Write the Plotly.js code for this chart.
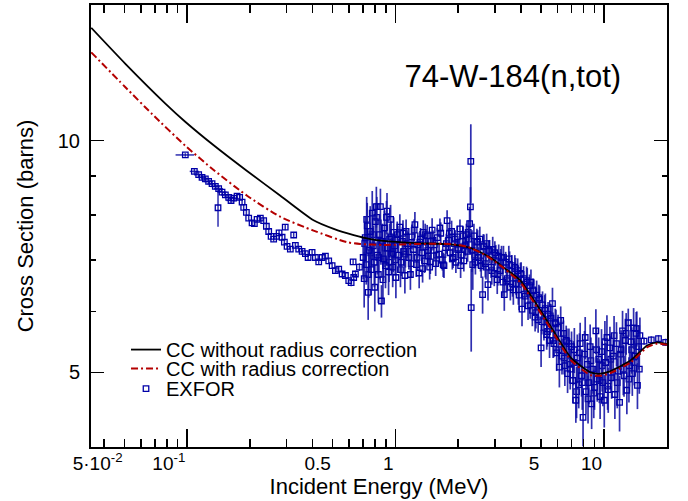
<!DOCTYPE html>
<html>
<head>
<meta charset="utf-8">
<script src="https://cdn.plot.ly/plotly-3.0.1.min.js"></script>
<style>html,body{margin:0;padding:0;background:#fff;}#chart{width:688px;height:501px;}</style>
</head>
<body>
<div id="chart"></div>
<script>
// ---------------- data ----------------
const chartTitle = '74-W-184(n,tot)';
const xTitle = 'Incident Energy (MeV)';
const yTitle = 'Cross Section (barns)';
const seriesNames = ['CC without radius correction', 'CC with radius correction', 'EXFOR'];

const xRangeMeV = [0.0346, 20.1];
const yRangeBarns = [4, 15];
const xTickVals = [0.05, 0.1, 0.5, 1, 5, 10];
const xTickText = ['5·10<sup>-2</sup>', '10<sup>-1</sup>', '0.5', '1', '5', '10'];
const xMajorTickVals = [0.1, 1, 10];
const xMinorTickVals = [0.04, 0.06, 0.07, 0.08, 0.09, 0.2, 0.3, 0.4, 0.6, 0.7, 0.8, 0.9, 2, 3, 4, 6, 7, 8, 9];
const yTickVals = [5, 10];
const yTickText = ['5', '10'];
const yMinorTickVals = [6, 7, 8, 9];

// CC without radius correction (black solid)
const ccNoCorrE = [0.0347, 0.0506, 0.0787, 0.098, 0.1342, 0.1941, 0.2805, 0.4045, 0.5056, 0.6307, 0.759, 0.876, 1.27, 1.837, 2.30, 2.858, 3.31, 3.98, 4.447, 5.55, 6.92, 7.73, 8.63, 9.64, 10.77, 13.43, 16.15, 18.05, 20.1];
const ccNoCorrS = [14.01, 12.58, 11.17, 10.58, 9.86, 9.13, 8.48, 7.88, 7.68, 7.54, 7.45, 7.41, 7.36, 7.33, 7.25, 7.05, 6.84, 6.58, 6.30, 5.74, 5.23, 5.10, 5.00, 4.98, 5.02, 5.18, 5.42, 5.47, 5.44];

// CC with radius correction (red dash-dot)
const ccCorrE = [0.0347, 0.0506, 0.0679, 0.098, 0.1342, 0.1941, 0.2805, 0.4045, 0.5849, 0.6775, 0.876, 1.27, 1.837, 2.21, 2.65, 3.19, 3.98, 4.447, 5.55, 6.92, 7.73, 8.63, 9.64, 10.77, 13.43, 16.15, 18.05, 20.1];
const ccCorrS = [13.02, 11.73, 10.83, 9.85, 9.16, 8.48, 7.96, 7.64, 7.38, 7.34, 7.32, 7.34, 7.34, 7.28, 7.12, 6.88, 6.54, 6.26, 5.70, 5.19, 5.06, 4.96, 4.95, 4.99, 5.15, 5.39, 5.45, 5.43];

// EXFOR, low-energy set (0.1 - 0.7 MeV)
const exforLowE = [0.0981, 0.1084, 0.1137, 0.1180, 0.1224, 0.1269, 0.1318, 0.1367, 0.1408, 0.1418,
  0.1472, 0.1527, 0.1584, 0.1626, 0.1674, 0.1738, 0.1788, 0.1837, 0.1870, 0.1926,
  0.1976, 0.2051, 0.2104, 0.2168, 0.2248, 0.2332, 0.2403, 0.2465, 0.2531, 0.2604,
  0.2684, 0.2765, 0.2858, 0.2931, 0.2959, 0.3020, 0.3131, 0.3249, 0.3310, 0.3434,
  0.3566, 0.3698, 0.3810, 0.3982, 0.4130, 0.4284, 0.4448, 0.4613, 0.4785, 0.4968,
  0.5152, 0.5344, 0.5548, 0.5754, 0.5969, 0.6130, 0.6265, 0.6307, 0.6427, 0.6718];
const exforLowS = [9.58, 9.12, 9.03, 8.96, 8.92, 8.85, 8.79, 8.72, 8.18, 8.66,
  8.57, 8.50, 8.44, 8.36, 8.42, 8.47, 8.44, 8.32, 8.19, 8.07,
  7.93, 7.82, 7.80, 7.90, 7.93, 7.87, 7.74, 7.62, 7.51, 7.45,
  7.51, 7.59, 7.49, 7.38, 7.72, 7.29, 7.23, 7.54, 7.31, 7.23,
  7.18, 7.13, 7.05, 7.16, 7.05, 6.96, 7.05, 7.08, 6.98, 6.88,
  6.78, 6.81, 6.71, 6.68, 6.58, 6.54, 6.96, 6.64, 6.71, 6.85];
const exforLowErr = [0.05, 0.07, 0.07, 0.06, 0.07, 0.06, 0.07, 0.06, 0.45, 0.06,
  0.07, 0.06, 0.06, 0.07, 0.06, 0.06, 0.07, 0.06, 0.06, 0.07,
  0.06, 0.06, 0.07, 0.06, 0.06, 0.07, 0.06, 0.06, 0.07, 0.06,
  0.06, 0.07, 0.06, 0.06, 0.07, 0.06, 0.06, 0.07, 0.06, 0.06,
  0.07, 0.06, 0.06, 0.07, 0.06, 0.06, 0.07, 0.06, 0.06, 0.07,
  0.06, 0.06, 0.07, 0.06, 0.06, 0.07, 0.06, 0.06, 0.07, 0.08];
const exforLowDE = [0.010, 0.0054, 0.0057, 0.0059, 0.0061, 0.0063, 0.0066, 0.0068, 0, 0.0071,
  0.0074, 0.0076, 0.0079, 0.0081, 0.0084, 0, 0, 0, 0, 0,
  0, 0, 0, 0, 0, 0, 0, 0, 0, 0,
  0, 0, 0, 0, 0, 0, 0, 0, 0, 0,
  0, 0, 0, 0, 0, 0, 0, 0, 0, 0,
  0, 0, 0, 0, 0, 0, 0, 0, 0, 0];

// EXFOR, high-energy set A (0.7 - 20 MeV)
const exforHighE = [
  0.700, 0.708, 0.716, 0.724, 0.732, 0.740, 0.748, 0.757, 0.765, 0.774,
  0.783, 0.792, 0.801, 0.810, 0.819, 0.828, 0.838, 0.847, 0.857, 0.866,
  0.876, 0.886, 0.896, 0.906, 0.916, 0.927, 0.937, 0.948, 0.959, 0.970, 0.981,
  0.992, 1.005, 1.020, 1.035, 1.050, 1.065, 1.080, 1.095, 1.110, 1.125,
  1.140, 1.160, 1.180, 1.200, 1.220, 1.240, 1.260, 1.280, 1.300, 1.320,
  1.340, 1.360, 1.380, 1.400, 1.420, 1.440, 1.460, 1.480, 1.500, 1.530,
  1.560, 1.590, 1.620, 1.650, 1.680, 1.710, 1.740, 1.770, 1.800, 1.830,
  1.860, 1.890, 1.920, 1.950, 1.980, 2.010, 2.040, 2.070, 2.100, 2.130,
  2.160, 2.190, 2.220,
  2.25, 2.27, 2.29, 2.30, 2.31, 2.33, 2.35,
  2.38, 2.42, 2.46, 2.50, 2.54, 2.58, 2.62, 2.66, 2.70, 2.74,
  2.78, 2.83, 2.88, 2.93, 2.98, 3.03, 3.08, 3.13, 3.18, 3.23,
  3.28, 3.33, 3.38, 3.44, 3.50, 3.56, 3.62, 3.68, 3.74, 3.80,
  3.86, 3.92, 3.98, 4.05, 4.12, 4.19, 4.26, 4.33, 4.40, 4.47,
  4.54, 4.61, 4.68, 4.76, 4.84, 4.92, 5.00, 5.08, 5.16, 5.24,
  5.32, 5.40, 5.49, 5.58, 5.67, 5.76, 5.85, 5.94, 6.03, 6.12,
  6.21, 6.30, 6.40, 6.50, 6.60, 6.70, 6.80, 6.90, 7.00,
  7.10, 7.22, 7.34, 7.46, 7.58, 7.70, 7.82, 7.95, 8.08, 8.21,
  8.34, 8.47, 8.60, 8.74, 8.88, 9.02, 9.16, 9.30, 9.45, 9.60,
  9.75, 9.90, 10.05, 10.2, 10.35, 10.5, 10.7, 10.9, 11.1, 11.3,
  11.5, 11.7, 11.9, 12.1, 12.3, 12.5, 12.7, 12.9, 13.1, 13.3,
  13.5, 13.7, 13.9, 14.1, 14.3, 14.5, 14.7, 14.9,
  15.6, 16.9, 18.3, 19.8];
const exforHighS = [
  7.05, 6.62, 7.48, 6.90, 7.75, 6.35, 7.20, 7.62, 6.80, 8.05,
  7.30, 6.95, 7.85, 8.21, 7.10, 6.70, 7.55, 8.21, 6.19, 7.40,
  7.02, 7.70, 6.88, 7.95, 7.25, 6.75, 7.45, 7.90, 7.12, 6.85, 7.60,
  7.30, 6.64, 7.55, 7.10, 7.72, 6.95, 7.40, 7.18, 6.68, 7.62,
  7.35, 7.05, 6.70, 7.50, 7.22, 7.78, 6.90, 7.32, 6.73, 7.45,
  7.15, 7.60, 6.98, 7.28, 7.52, 7.08, 6.85, 7.40, 7.65, 7.20,
  6.92, 7.48, 7.12, 7.58, 7.00, 6.88, 7.26, 7.87, 7.42, 7.15,
  7.62, 7.05, 7.35, 6.95, 7.50, 7.22, 7.68, 7.10, 7.40, 6.98,
  7.30, 7.55, 7.18,
  7.45, 7.80, 8.20, 9.40, 6.07, 7.20, 6.90,
  7.52, 6.95, 7.38, 7.05, 7.45, 6.88, 6.31, 7.30, 6.92, 7.35,
  6.50, 7.18, 6.85, 7.22, 6.72, 7.10, 6.60, 7.08, 6.78, 7.05,
  6.55, 6.31, 6.95, 6.62, 7.02, 6.45, 6.88, 6.40, 6.85, 6.52,
  6.78, 6.30, 6.72, 6.04, 6.62, 6.28, 6.58, 6.10, 6.48, 6.55,
  6.02, 6.38, 5.90, 6.30, 5.85, 6.22, 5.38, 6.12, 5.72, 6.05,
  5.60, 5.95, 5.50, 5.88, 6.14, 5.45, 5.80, 5.30, 5.72, 5.08,
  5.84, 5.25, 5.62, 5.10, 5.50, 4.98, 5.45, 5.05, 5.40,
  4.88, 5.35, 4.60, 5.22, 4.82, 5.45, 4.95, 4.37, 5.28, 4.72,
  5.12, 4.85, 5.40, 4.55, 5.05, 4.78, 5.66, 4.90, 5.20, 4.65,
  5.32, 4.85, 4.60, 5.15, 5.55, 4.75, 5.38, 4.92, 5.25, 4.68,
  5.45, 5.02, 4.57, 5.35, 5.66, 4.95, 5.50, 4.74, 5.80, 5.10,
  5.48, 4.98, 5.71, 5.25, 5.62, 4.81, 5.40, 5.58,
  5.49, 5.51, 5.53, 5.47];
const exforHighErr = [
  0.45, 0.55, 0.50, 0.40, 0.55, 0.50, 0.45, 0.60, 0.50, 0.55,
  0.45, 0.50, 0.45, 0.50, 0.40, 0.55, 0.45, 0.45, 0.30, 0.40,
  0.45, 0.40, 0.45, 0.40, 0.35, 0.45, 0.35, 0.35, 0.35, 0.40, 0.35,
  0.30, 0.40, 0.30, 0.35, 0.30, 0.28, 0.32, 0.30, 0.35, 0.28,
  0.30, 0.25, 0.30, 0.28, 0.25, 0.30, 0.25, 0.28, 0.30, 0.25,
  0.22, 0.28, 0.25, 0.22, 0.25, 0.22, 0.25, 0.22, 0.28, 0.22,
  0.25, 0.22, 0.20, 0.25, 0.22, 0.25, 0.22, 0.25, 0.22, 0.20,
  0.25, 0.22, 0.20, 0.22, 0.25, 0.20, 0.22, 0.20, 0.25, 0.22,
  0.20, 0.25, 0.22,
  0.30, 0.40, 0.50, 1.10, 0.75, 0.45, 0.50,
  0.28, 0.25, 0.30, 0.22, 0.28, 0.25, 0.35, 0.25, 0.28, 0.22,
  0.30, 0.25, 0.22, 0.28, 0.25, 0.22, 0.28, 0.25, 0.22, 0.25,
  0.28, 0.30, 0.22, 0.25, 0.28, 0.25, 0.22, 0.28, 0.25, 0.22,
  0.25, 0.28, 0.22, 0.30, 0.25, 0.22, 0.28, 0.25, 0.22, 0.25,
  0.28, 0.22, 0.25, 0.28, 0.22, 0.25, 0.30, 0.25, 0.22, 0.28,
  0.25, 0.22, 0.28, 0.25, 0.30, 0.22, 0.25, 0.28, 0.22, 0.30,
  0.25, 0.28, 0.22, 0.30, 0.25, 0.28, 0.25, 0.30, 0.25,
  0.32, 0.36, 0.30, 0.38, 0.33, 0.35, 0.30, 0.36, 0.38, 0.31,
  0.35, 0.30, 0.37, 0.33, 0.36, 0.31, 0.38, 0.32, 0.35, 0.30,
  0.37, 0.33, 0.36, 0.31, 0.38, 0.32, 0.35, 0.30, 0.37, 0.33,
  0.36, 0.31, 0.38, 0.32, 0.35, 0.30, 0.37, 0.33, 0.25, 0.31,
  0.38, 0.32, 0.35, 0.30, 0.37, 0.33, 0.36, 0.31,
  0.06, 0.06, 0.06, 0.06];

// EXFOR, high-energy set B (0.7 - 15 MeV)
const exforHigh2E = [
  0.712, 0.728, 0.744, 0.761, 0.778, 0.796, 0.814, 0.833, 0.852, 0.871,
  0.891, 0.911, 0.932, 0.953, 0.975, 0.998, 1.027, 1.057, 1.087, 1.117,
  1.150, 1.190, 1.230, 1.270, 1.310, 1.350, 1.390, 1.430, 1.470, 1.515,
  1.575, 1.635, 1.695, 1.755, 1.815, 1.875, 1.935, 1.995, 2.055, 2.115,
  2.175, 2.235,
  2.40, 2.48, 2.56, 2.64, 2.72, 2.80, 2.90, 3.00, 3.10, 3.20,
  3.30, 3.41, 3.53, 3.65, 3.77, 3.89, 4.01, 4.15, 4.29, 4.43,
  4.57, 4.72, 4.88, 5.04, 5.20, 5.36, 5.53, 5.71, 5.89, 6.07,
  6.25, 6.45, 6.65, 6.85,
  7.16, 7.40, 7.64, 7.88, 8.14, 8.40, 8.67, 8.95, 9.23, 9.52,
  9.82, 10.12, 10.43, 10.8, 11.2, 11.6, 12.0, 12.4, 12.8, 13.2,
  13.6, 14.0, 14.4, 14.8];
const exforHigh2S = [
  7.35, 7.90, 6.70, 7.15, 7.55, 6.45, 7.95, 7.05, 7.40, 6.60,
  7.25, 8.10, 6.95, 7.50, 7.15, 7.00, 7.45, 6.80, 7.58, 7.12,
  7.30, 6.92, 7.65, 7.05, 7.38, 6.82, 7.55, 7.20, 6.96, 7.42,
  7.10, 7.70, 6.90, 7.35, 7.58, 7.02, 7.45, 7.25, 6.88, 7.52,
  7.32, 7.60,
  7.10, 7.40, 6.98, 7.28, 6.85, 7.20, 6.78, 7.15, 6.70, 6.95,
  7.05, 6.58, 6.90, 6.52, 6.82, 6.40, 6.70, 6.32, 6.55, 6.12,
  6.40, 5.98, 6.25, 5.82, 6.02, 5.65, 5.92, 5.50, 5.78, 5.35,
  5.62, 5.22, 5.48, 5.12,
  5.15, 4.72, 5.30, 4.85, 5.55, 4.62, 5.18, 4.70, 5.35, 4.88,
  5.10, 5.48, 4.80, 5.20, 5.58, 4.85, 5.28, 5.05, 5.62, 4.90,
  5.35, 5.15, 5.70, 5.05];
const exforHigh2Err = [
  0.50, 0.55, 0.45, 0.50, 0.55, 0.45, 0.50, 0.45, 0.50, 0.45,
  0.40, 0.45, 0.40, 0.35, 0.40, 0.32, 0.30, 0.35, 0.30, 0.28,
  0.30, 0.28, 0.25, 0.28, 0.25, 0.28, 0.25, 0.22, 0.25, 0.22,
  0.25, 0.22, 0.25, 0.22, 0.25, 0.22, 0.20, 0.22, 0.25, 0.22,
  0.25, 0.28,
  0.28, 0.25, 0.22, 0.28, 0.25, 0.22, 0.28, 0.25, 0.22, 0.28,
  0.25, 0.22, 0.28, 0.25, 0.22, 0.28, 0.25, 0.22, 0.28, 0.25,
  0.22, 0.28, 0.25, 0.22, 0.28, 0.25, 0.22, 0.28, 0.25, 0.22,
  0.28, 0.25, 0.22, 0.28,
  0.34, 0.36, 0.32, 0.38, 0.35, 0.33, 0.37, 0.34, 0.36, 0.32,
  0.38, 0.35, 0.33, 0.37, 0.34, 0.36, 0.32, 0.38, 0.35, 0.33,
  0.37, 0.34, 0.30, 0.36];

// ---------------- styling ----------------
const FONT = 'Liberation Sans, Arial, Helvetica, sans-serif';
const exforColor = '#0000a8';
const errColor = 'rgba(18,18,165,0.88)';
const lg = Math.log10;
const xr = [lg(xRangeMeV[0]), lg(xRangeMeV[1])];
const yr = [lg(yRangeBarns[0]), lg(yRangeBarns[1])];
const exforMarker = {symbol: 'square-open', size: 5.5, color: exforColor, line: {width: 1.3, color: exforColor}};

const traces = [
  {
    x: exforLowE, y: exforLowS, type: 'scatter', mode: 'markers', name: seriesNames[2],
    legend: 'legend3', legendgroup: 'exfor', showlegend: false, marker: exforMarker,
    error_y: {type: 'data', array: exforLowErr, visible: true, color: errColor, thickness: 1.5, width: 0},
    error_x: {type: 'data', array: exforLowDE, visible: true, color: errColor, thickness: 1.5, width: 0},
    xaxis: 'x', yaxis: 'y', hoverinfo: 'skip'
  },
  {
    x: exforHigh2E, y: exforHigh2S, type: 'scatter', mode: 'markers', name: seriesNames[2],
    legend: 'legend3', legendgroup: 'exfor', showlegend: false, marker: exforMarker,
    error_y: {type: 'data', array: exforHigh2Err, visible: true, color: errColor, thickness: 1.7, width: 0},
    xaxis: 'x', yaxis: 'y', hoverinfo: 'skip'
  },
  {
    x: exforHighE, y: exforHighS, type: 'scatter', mode: 'markers', name: seriesNames[2],
    legend: 'legend3', legendgroup: 'exfor', showlegend: true, marker: exforMarker,
    error_y: {type: 'data', array: exforHighErr, visible: true, color: errColor, thickness: 1.7, width: 0},
    xaxis: 'x', yaxis: 'y', hoverinfo: 'skip'
  },
  {
    x: ccNoCorrE, y: ccNoCorrS, type: 'scatter', mode: 'lines', name: seriesNames[0],
    legend: 'legend', line: {color: '#000000', width: 1.8, shape: 'spline', smoothing: 0.6},
    xaxis: 'x2', yaxis: 'y2', hoverinfo: 'skip'
  },
  {
    x: ccCorrE, y: ccCorrS, type: 'scatter', mode: 'lines', name: seriesNames[1],
    legend: 'legend2', line: {color: '#b40000', width: 2, dash: '7px,3px,2px,3px', shape: 'spline', smoothing: 0.6},
    xaxis: 'x2', yaxis: 'y2', hoverinfo: 'skip'
  }
];

const commonLegend = {xanchor: 'left', yanchor: 'middle', bgcolor: 'rgba(0,0,0,0)', borderwidth: 0,
  font: {family: FONT, size: 20, color: '#000'}};

const layout = {
  width: 688, height: 501,
  margin: {l: 91, r: 21, t: 5, b: 54, pad: 0},
  paper_bgcolor: '#ffffff', plot_bgcolor: '#ffffff',
  font: {family: FONT, color: '#000', size: 19},
  showlegend: true,
  title: {text: chartTitle, font: {family: FONT, size: 31, color: '#000'},
          x: 0.7323, xref: 'paper', xanchor: 'center', y: 0.838, yref: 'paper', yanchor: 'middle'},
  xaxis: {
    type: 'log', range: xr, tickmode: 'array', tickvals: xTickVals, ticktext: xTickText,
    ticks: 'inside', ticklen: 8, tickwidth: 1.5, tickcolor: '#000',
    showline: true, linewidth: 2, linecolor: '#000', mirror: 'ticks',
    showgrid: false, zeroline: false, ticklabelposition: 'outside left', ticklabelstandoff: -2,
    tickfont: {family: FONT, size: 19, color: '#000'},
    title: {text: xTitle, font: {family: FONT, size: 22, color: '#000'}, standoff: 0},
    minor: {tickmode: 'array', tickvals: xMinorTickVals, ticks: 'inside', ticklen: 8, tickwidth: 1.5, tickcolor: '#000', showgrid: false},
    automargin: false, fixedrange: true
  },
  xaxis2: {
    type: 'log', range: xr, overlaying: 'x', anchor: 'y2', side: 'bottom',
    tickmode: 'array', tickvals: xMajorTickVals, showticklabels: false,
    ticks: 'inside', ticklen: 18, tickwidth: 1.5, tickcolor: '#000',
    showline: true, linewidth: 2, linecolor: '#000', mirror: 'ticks',
    showgrid: false, zeroline: false, automargin: false, fixedrange: true
  },
  yaxis: {
    type: 'log', range: yr, tickmode: 'array', tickvals: yTickVals, ticktext: yTickText,
    ticks: 'inside', ticklen: 13, tickwidth: 1.5, tickcolor: '#000',
    showline: true, linewidth: 2, linecolor: '#000', mirror: 'ticks',
    showgrid: false, zeroline: false, ticklabelstandoff: 5,
    tickfont: {family: FONT, size: 20, color: '#000'},
    title: {text: yTitle, font: {family: FONT, size: 22, color: '#000'}, standoff: 18},
    minor: {tickmode: 'array', tickvals: yMinorTickVals, ticks: 'inside', ticklen: 5, tickwidth: 1.5, tickcolor: '#000', showgrid: false},
    automargin: false, fixedrange: true
  },
  yaxis2: {
    type: 'log', range: yr, overlaying: 'y', anchor: 'x2', side: 'left',
    showticklabels: false, ticks: '', showline: false, showgrid: false, zeroline: false,
    automargin: false, fixedrange: true
  },
  legend: Object.assign({x: 0.0608, y: 0.2204}, commonLegend),
  legend2: Object.assign({x: 0.0608, y: 0.1774}, commonLegend),
  legend3: Object.assign({x: 0.0608, y: 0.1321}, commonLegend)
};

Plotly.newPlot('chart', traces, layout, {staticPlot: true, displayModeBar: false});
</script>
</body>
</html>
